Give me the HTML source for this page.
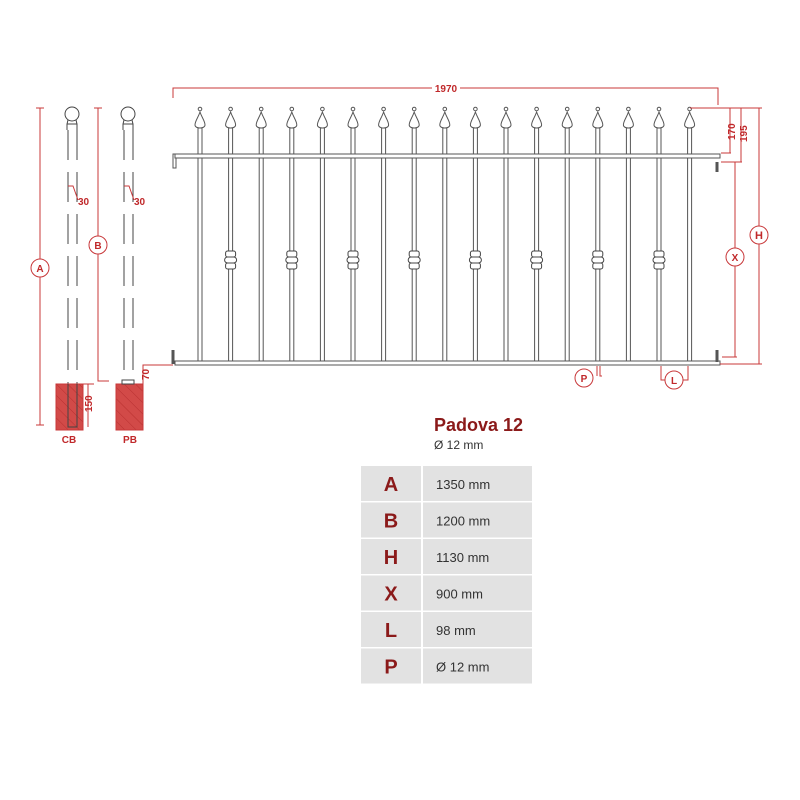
<!DOCTYPE html>
<html><head><meta charset="utf-8"><style>
body{margin:0;background:#fff;width:800px;height:800px;overflow:hidden}
svg{position:absolute;left:0;top:0}
.r{stroke:#c8383a;fill:none;stroke-width:1}
.t{font-family:"Liberation Sans",sans-serif;font-weight:bold;fill:#c0282a}
</style></head><body>
<svg id="s" width="800" height="800" viewBox="0 0 800 800">
<defs>
<pattern id="h" width="8" height="8" patternUnits="userSpaceOnUse" patternTransform="rotate(-45)">
<rect width="8" height="8" fill="#d24a48"/><line x1="0" y1="0" x2="0" y2="8" stroke="#b83030" stroke-width="1"/>
</pattern>
</defs>
<g id="fence"></g>
<!-- top & bottom rails -->
<rect x="175" y="154" width="545" height="4" fill="#fff" stroke="#555" stroke-width="1"/>
<rect x="175" y="361" width="545" height="4" fill="#fff" stroke="#555" stroke-width="1"/>
<path d="M175 154 h-2 v14 h3 v-10" fill="none" stroke="#555"/>
<path d="M173 350 v14" stroke="#555" stroke-width="3" fill="none"/>
<path d="M717 162 v10" stroke="#555" stroke-width="3"/>
<path d="M717 350 v12" stroke="#555" stroke-width="3"/>
<!-- dimension 1970 -->
<path class="r" d="M173 98 V88 H718 V105"/>
<rect x="432" y="82" width="28" height="11" fill="#fff"/>
<text class="t" x="446" y="92" font-size="10" text-anchor="middle">1970</text>
<!-- right dims -->
<path class="r" d="M690 108 H762"/>
<path class="r" d="M721 153 H731 M730 108 V153"/>
<path class="r" d="M721 162 H742 M741 108 V162"/>
<path class="r" d="M722 162 H737 M735 162 V357 M722 357 H737"/>
<path class="r" d="M720 364 H762 M759 108 V364"/>
<text class="t" font-size="10" transform="translate(735,140) rotate(-90)">170</text>
<text class="t" font-size="10" transform="translate(747,142) rotate(-90)">195</text>
<circle cx="759" cy="235" r="9" fill="#fff" stroke="#c8383a"/>
<text class="t" x="759" y="239" font-size="11" text-anchor="middle">H</text>
<circle cx="735" cy="257" r="9" fill="#fff" stroke="#c8383a"/>
<text class="t" x="735" y="261" font-size="10" text-anchor="middle">X</text>
<path class="r" d="M597 366 V376 M600 366 V376 H602"/>
<circle cx="584" cy="378" r="9" fill="#fff" stroke="#c8383a"/>
<text class="t" x="584" y="382" font-size="10" text-anchor="middle">P</text>
<path class="r" d="M661 366 V380 H665 M688 366 V380 H683"/>
<circle cx="674" cy="380" r="9" fill="#fff" stroke="#c8383a"/>
<text class="t" x="674" y="384" font-size="10" text-anchor="middle">L</text>
<!-- posts -->
<g stroke="#444" fill="none" stroke-width="1">
<circle cx="72" cy="114" r="7" fill="#fff"/>
<path d="M68 120 l-1 4 v6 M76 120 l1 4 v6 M67 124 h10"/>
<path d="M68 130 V430 M77 130 V430" stroke-dasharray="30,12"/>
<circle cx="128" cy="114" r="7" fill="#fff"/>
<path d="M124 120 l-1 4 v6 M132 120 l1 4 v6 M123 124 h10"/>
<path d="M124 130 V380 M133 130 V380" stroke-dasharray="30,12"/>
</g>
<path class="r" d="M68 186 H73 L78 200"/>
<path class="r" d="M124 186 H129 L134 200"/>
<text class="t" x="78" y="205" font-size="10">30</text>
<text class="t" x="134" y="205" font-size="10">30</text>
<!-- A, B -->
<path class="r" d="M36 108 H44 M40 108 V425 M36 425 H44"/>
<circle cx="40" cy="268" r="9" fill="#fff" stroke="#c8383a"/>
<text class="t" x="40" y="272" font-size="10" text-anchor="middle">A</text>
<path class="r" d="M94 108 H102 M98 108 V381 H109"/>
<circle cx="98" cy="245" r="9" fill="#fff" stroke="#c8383a"/>
<text class="t" x="98" y="249" font-size="10" text-anchor="middle">B</text>
<!-- blocks -->
<rect x="56" y="384" width="27" height="46" fill="url(#h)" stroke="#c8383a"/>
<path d="M68 384 V427 H77 V384" stroke="#444" fill="none"/>
<path class="r" d="M83 384 H94 M88 384 V427"/>
<text class="t" font-size="10" transform="translate(92,412) rotate(-90)">150</text>
<rect x="116" y="384" width="27" height="46" fill="url(#h)" stroke="#c8383a"/>
<rect x="122" y="380" width="12" height="4" fill="#fff" stroke="#444"/>
<path class="r" d="M143 384 V365 H173"/>
<text class="t" font-size="10" transform="translate(149,380) rotate(-90)">70</text>
<text class="t" x="69" y="443" font-size="10" text-anchor="middle" fill="#8b1a1a">CB</text>
<text class="t" x="130" y="443" font-size="10" text-anchor="middle">PB</text>
<!-- title -->
<text x="434" y="431" font-family="Liberation Sans,sans-serif" font-weight="bold" font-size="18" fill="#8b1a1a">Padova 12</text>
<text x="434" y="449" font-family="Liberation Sans,sans-serif" font-size="12" fill="#333">Ø 12 mm</text>
<g id="tbl" font-family="Liberation Sans,sans-serif"></g>
</svg>
<script>
var ns="http://www.w3.org/2000/svg",f=document.getElementById('fence');
function el(n,a,p){var e=document.createElementNS(ns,n);for(var k in a)e.setAttribute(k,a[k]);(p||f).appendChild(e);return e}
for(var i=0;i<17;i++){var x=200+i*30.6;
el('rect',{x:x-2,y:128,width:4,height:235,fill:'#fff',stroke:'#555','stroke-width':1});
el('path',{d:'M'+x+' 112 C'+(x-2)+' 118 '+(x-5)+' 121 '+(x-5)+' 125 C'+(x-5)+' 129 '+(x+5)+' 129 '+(x+5)+' 125 C'+(x+5)+' 121 '+(x+2)+' 118 '+x+' 112Z',fill:'#fff',stroke:'#555'});
el('circle',{cx:x,cy:109,r:1.8,fill:'#fff',stroke:'#555'});
if(i%2==1){el('rect',{x:x-5,y:251,width:10,height:6,rx:2,fill:'#fff',stroke:'#444'});
el('rect',{x:x-6,y:257,width:12,height:6,rx:3,fill:'#fff',stroke:'#444'});
el('rect',{x:x-5,y:263,width:10,height:6,rx:2,fill:'#fff',stroke:'#444'});}
}
var t=document.getElementById('tbl'),rows=[['A','1350 mm'],['B','1200 mm'],['H','1130 mm'],['X','900 mm'],['L','98 mm'],['P','Ø 12 mm']];
rows.forEach(function(r,j){var y=466+j*36.5;
el('rect',{x:361,y:y,width:60,height:35,fill:'#e2e2e2'},t);
el('rect',{x:423,y:y,width:109,height:35,fill:'#e2e2e2'},t);
var a=el('text',{x:391,y:y+25,'font-size':20,'font-weight':'bold',fill:'#8b1a1a','text-anchor':'middle'},t);a.textContent=r[0];
var b=el('text',{x:436,y:y+23,'font-size':13,fill:'#333'},t);b.textContent=r[1];});
</script>
</body></html>
